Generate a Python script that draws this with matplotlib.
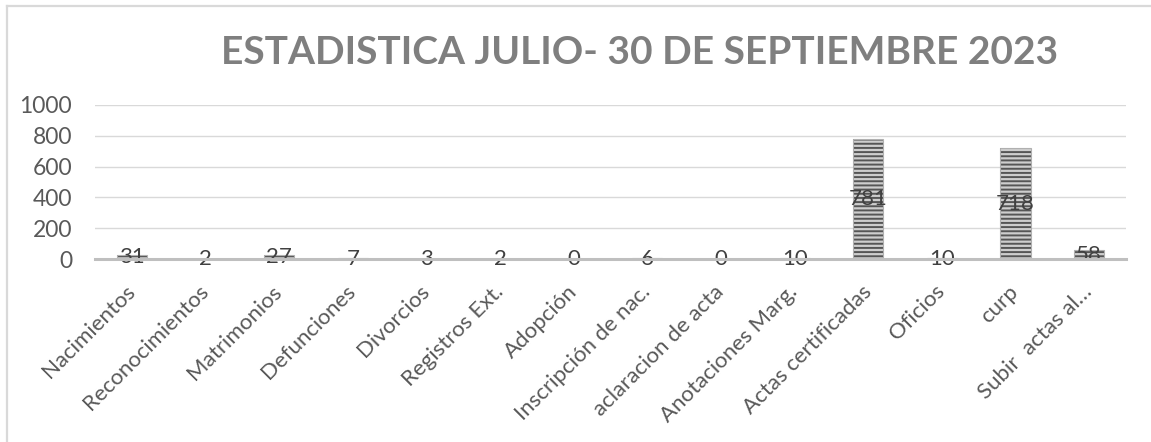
import matplotlib
matplotlib.use("Agg")
import matplotlib.pyplot as plt
from matplotlib.lines import Line2D

categories = ["Nacimientos", "Reconocimientos", "Matrimonios", "Defunciones",
              "Divorcios", "Registros Ext.", "Adopción", "Inscripción de nac.",
              "aclaracion de acta", "Anotaciones Marg.", "Actas certificadas",
              "Oficios", "curp", "Subir  actas al…"]
values = [31, 2, 27, 7, 3, 2, 0, 6, 0, 10, 781, 10, 718, 58]
yticks = [0, 200, 400, 600, 800, 1000]
title = "ESTADISTICA JULIO- 30 DE SEPTIEMBRE 2023"

W, H = 1151, 442
plt.rcParams['hatch.linewidth'] = 1.4
fig = plt.figure(figsize=(W / 100, H / 100), dpi=100)

# outer chart border (left and top only visible)
fig.add_artist(Line2D([6.5 / W, 6.5 / W], [0, 1 - 6 / H], transform=fig.transFigure,
                      color='#d9d9d9', lw=1.6))
fig.add_artist(Line2D([6.5 / W, 1], [1 - 6 / H, 1 - 6 / H], transform=fig.transFigure,
                      color='#d9d9d9', lw=1.6))

left, right = 95, 1126
top, bottom = 104.7, 259.3
ax = fig.add_axes([left / W, 1 - bottom / H, (right - left) / W, (bottom - top) / H])

x = list(range(len(categories)))
# striped fill (hatch takes the edge colour; edge itself not drawn)
ax.bar(x, values, width=0.41, color='#cdcdcd', edgecolor='#555555', linewidth=0,
       hatch='----', zorder=3)
# soft outline
ax.bar(x, values, width=0.41, color='none', edgecolor='#b0b0b0', linewidth=0.8, zorder=3.5)

for xi, v in zip(x, values):
    ax.text(xi, v / 2, str(v), ha='center', va='center', fontsize=16,
            color='#404040', family='Lato', zorder=4)

ax.set_xlim(-0.5, len(categories) - 0.5)
ax.set_ylim(0, 1000)
ax.set_yticks(yticks)
ax.set_yticklabels([str(t) for t in yticks], fontsize=16.5, color='#595959', family='Lato')
ax.set_xticks(x)
ax.set_xticklabels(categories, rotation=45, ha='right', va='center', rotation_mode='anchor',
                   fontsize=16, color='#595959', family='Lato')
ax.tick_params(axis='both', length=0)
ax.tick_params(axis='y', pad=16.5)
ax.tick_params(axis='x', pad=21)

for s in ['top', 'right', 'left']:
    ax.spines[s].set_visible(False)
ax.spines['bottom'].set_color('#bfbfbf')
ax.spines['bottom'].set_linewidth(2.2)
ax.spines['bottom'].set_zorder(5)
ax.grid(axis='y', color='#d9d9d9', linewidth=1.0, zorder=0)
ax.set_axisbelow(True)

fig.text(640 / W, 1 - 52 / H, title, ha='center', va='center', fontsize=28,
         fontweight='bold', color='#7f7f7f', family='Lato')

fig.savefig('out.png', dpi=100, facecolor='white')
